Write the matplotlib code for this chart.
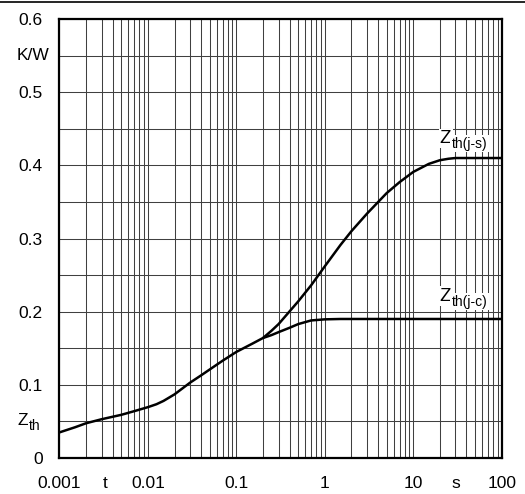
import numpy as np
import matplotlib.pyplot as plt
from matplotlib.lines import Line2D
from matplotlib.ticker import FixedLocator, NullFormatter, LogLocator

plt.rcParams['font.family'] = ['Liberation Sans', 'DejaVu Sans']

# thermal impedance, shared part up to the split point (t in s, Z in K/W)
t_common = [0.001, 0.0015, 0.002, 0.003, 0.005, 0.007, 0.01, 0.0125, 0.015,
            0.02, 0.03, 0.04, 0.05, 0.07, 0.1, 0.15, 0.2]
z_common = [0.035, 0.042, 0.0475, 0.053, 0.059, 0.064, 0.0695, 0.0735,
            0.078, 0.087, 0.103, 0.113, 0.121, 0.133, 0.145, 0.156, 0.164]

# junction to heatsink
t_js = [0.25, 0.3, 0.5, 0.7, 1, 1.5, 2, 3, 5, 7, 10, 15, 20, 25, 30, 100]
z_js = [0.174, 0.183, 0.214, 0.236, 0.262, 0.291, 0.31, 0.334, 0.362,
        0.377, 0.391, 0.402, 0.407, 0.409, 0.41, 0.41]

# junction to case
t_jc = [0.25, 0.3, 0.4, 0.5, 0.7, 1, 1.5, 100]
z_jc = [0.168, 0.172, 0.178, 0.183, 0.188, 0.1895, 0.19, 0.19]

x_ticks = [0.001, 0.01, 0.1, 1, 10, 100]
x_labels = ['0.001', '0.01', '0.1', '1', '10', '100']
y_ticks = [0, 0.1, 0.2, 0.3, 0.4, 0.5, 0.6]
y_labels = ['0', '0.1', '0.2', '0.3', '0.4', '0.5', '0.6']

fig = plt.figure(figsize=(5.25, 4.94), dpi=100)
ax = fig.add_axes([0.1133, 0.0729, 0.8423, 0.8886])

ax.plot(t_common + t_js, z_common + z_js, color='black', lw=1.8,
        solid_capstyle='butt', solid_joinstyle='round')
ax.plot(t_common[-1:] + t_jc, z_common[-1:] + z_jc, color='black', lw=1.8,
        solid_capstyle='butt', solid_joinstyle='round')

ax.set_xscale('log')
ax.set_xlim(0.001, 100)
ax.set_ylim(0, 0.6)

ax.xaxis.set_major_locator(FixedLocator(x_ticks))
ax.set_xticklabels(x_labels)
ax.xaxis.set_minor_locator(LogLocator(base=10, subs=np.arange(2, 10)))
ax.xaxis.set_minor_formatter(NullFormatter())
ax.set_yticks(y_ticks)
ax.set_yticklabels(y_labels)
ax.set_yticks(np.arange(0.05, 0.6, 0.1), minor=True)

ax.tick_params(which='both', length=0, labelsize=12.5)
ax.tick_params(axis='x', pad=13)
ax.tick_params(axis='y', pad=12)

ax.grid(True, which='both', color='#404040', lw=0.75)
ax.set_axisbelow(True)
for sp in ax.spines.values():
    sp.set_linewidth(1.6)

ytr = ax.get_yaxis_transform()

# unit and symbol labels on the axes
ax.text(-0.022, 0.55, 'K/W', transform=ytr, ha='right', va='center',
        fontsize=12.5)
ax.annotate('Z', xy=(0, 0.045), xycoords=ytr, xytext=(-30, 0),
            textcoords='offset points', ha='left', va='baseline',
            fontsize=12.5, annotation_clip=False)
ax.annotate('th', xy=(0, 0.045), xycoords=ytr, xytext=(-22.2, -3.5),
            textcoords='offset points', ha='left', va='baseline',
            fontsize=10, annotation_clip=False)
for pos, letter in [(0.00327, 't'), (30, 's')]:
    ax.annotate(letter, xy=(pos, 0), xycoords=('data', 'axes fraction'),
                xytext=(0, -13), textcoords='offset points',
                ha='center', va='top', fontsize=12.5, annotation_clip=False)


def curve_label(x, y, sub):
    box = dict(facecolor='white', edgecolor='none', pad=1)
    ax.text(x, y, 'Z', ha='left', va='baseline', fontsize=13.5, bbox=box)
    ax.annotate(sub, xy=(x, y), xytext=(8.4, -3.5),
                textcoords='offset points', va='baseline', ha='left',
                fontsize=10, bbox=box)


curve_label(20, 0.4305, 'th(j-s)')
curve_label(20, 0.215, 'th(j-c)')

# page rule above the chart
fig.add_artist(Line2D([0, 1], [1 - 2.5 / 494, 1 - 2.5 / 494],
                      color='black', lw=1.2, transform=fig.transFigure))

fig.savefig('out.png', dpi=100)
